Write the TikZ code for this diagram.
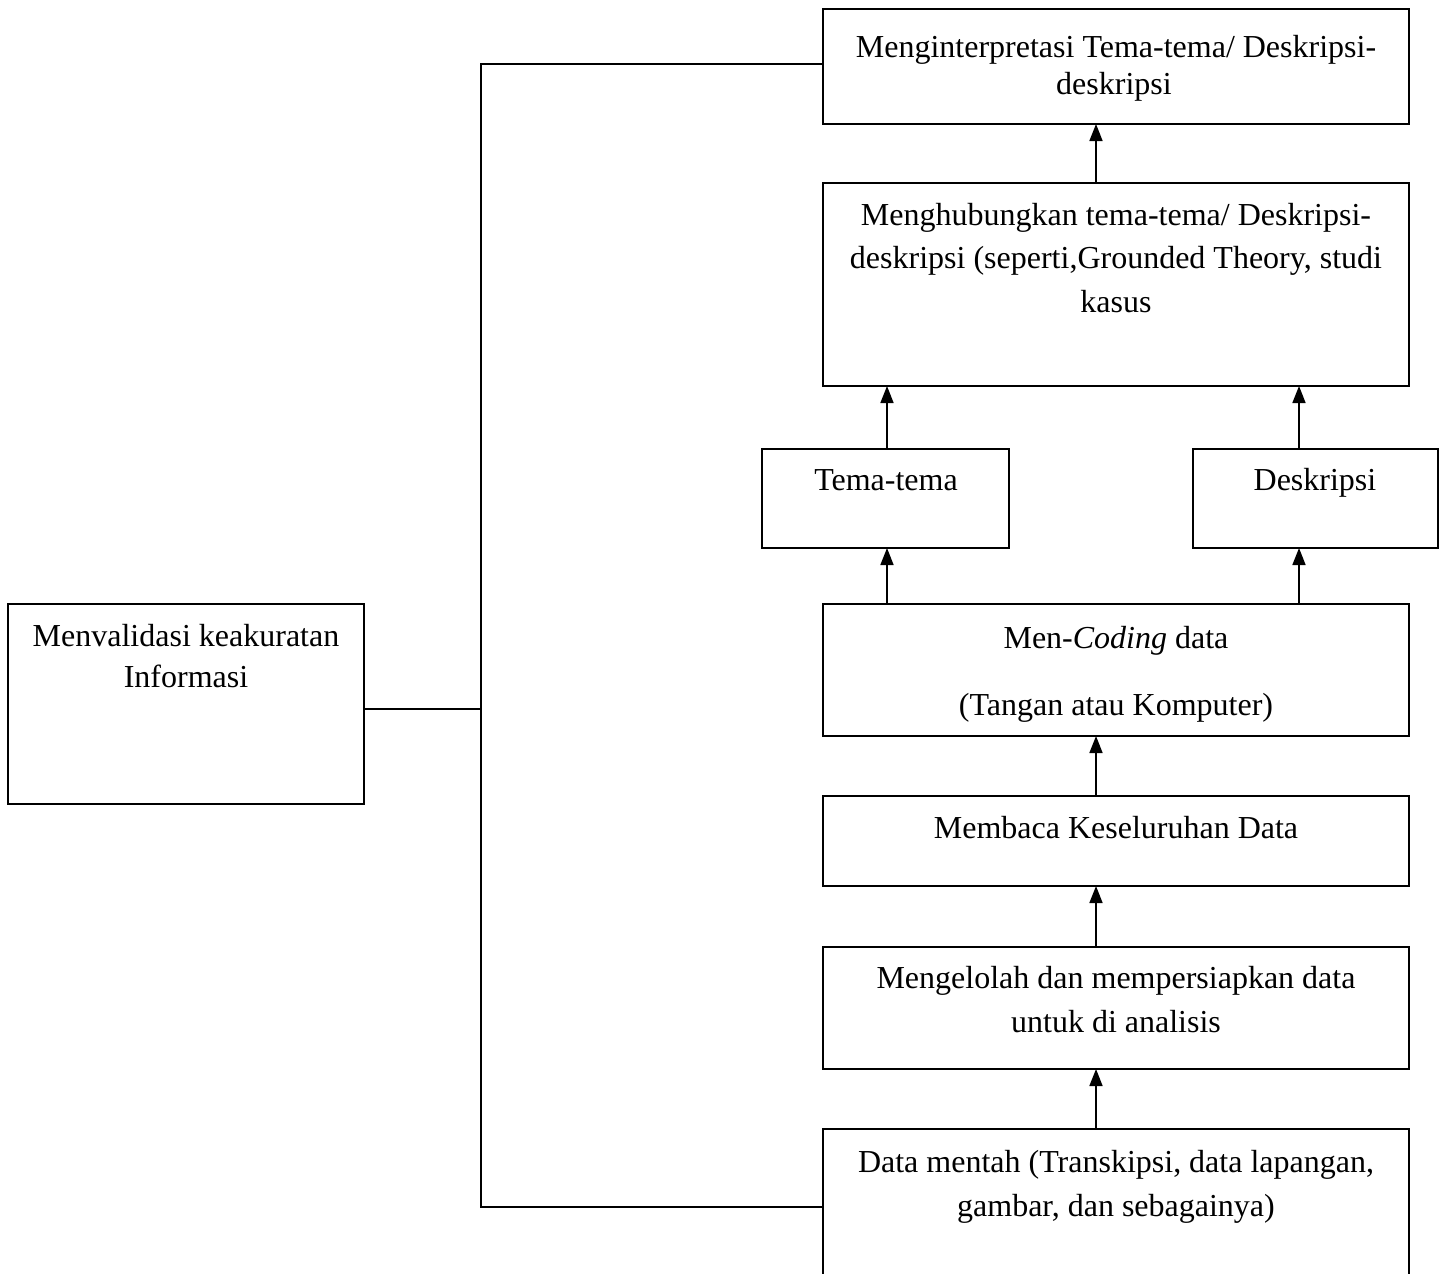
\documentclass[tikz,border=0pt]{standalone}
\usepackage{fontspec}
\setmainfont{Liberation Serif}
\usetikzlibrary{arrows.meta}
\begin{document}
\begin{tikzpicture}[x=1pt,y=-1pt,
  box/.style={draw,line width=1.8pt,rectangle,anchor=north west,inner sep=0pt,outer sep=0pt},
  txt/.style={anchor=base,inner sep=0pt,font=\fontsize{32}{37}\selectfont},
  link/.style={line width=1.6pt},
  arr/.style={line width=1.6pt,-{Triangle[length=17pt,width=13pt]}}]
\useasboundingbox (0,0) rectangle (1446,1274);
\clip (0,0) rectangle (1446,1274);
\fill[white] (0,0) rectangle (1446,1274);

% boxes
\node[box,minimum width=586pt,minimum height=115pt] (A) at (823,9) {};
\node[box,minimum width=586pt,minimum height=203pt] (B) at (823,183) {};
\node[box,minimum width=247pt,minimum height=99pt] (C) at (762,449) {};
\node[box,minimum width=245pt,minimum height=99pt] (D) at (1193,449) {};
\node[box,minimum width=586pt,minimum height=132pt] (E) at (823,604) {};
\node[box,minimum width=586pt,minimum height=90pt] (F) at (823,796) {};
\node[box,minimum width=586pt,minimum height=122pt] (G) at (823,947) {};
\node[box,minimum width=586pt,minimum height=170pt] (H) at (823,1129) {};
\node[box,minimum width=356pt,minimum height=200pt] (V) at (8,604) {};

% labels
\node[txt] (a1) at (1116,57) {Menginterpretasi Tema-tema/ Deskripsi-};
\node[txt] (a2) at (1114,94) {deskripsi};
\node[txt] (b1) at (1116,225) {Menghubungkan tema-tema/ Deskripsi-};
\node[txt] (b2) at (1116,268) {deskripsi (seperti,Grounded Theory, studi};
\node[txt] (b3) at (1116,312) {kasus};
\node[txt] (c1) at (886,490) {Tema-tema};
\node[txt] (d1) at (1315,490) {Deskripsi};
\node[txt] (e1) at (1116,648) {Men-\textit{Coding} data};
\node[txt] (e2) at (1116,715) {(Tangan atau Komputer)};
\node[txt] (f1) at (1116,838) {Membaca Keseluruhan Data};
\node[txt] (g1) at (1116,988) {Mengelolah dan mempersiapkan data};
\node[txt] (g2) at (1116,1032) {untuk di analisis};
\node[txt] (h1) at (1116,1172) {Data mentah (Transkipsi, data lapangan,};
\node[txt] (h2) at (1116,1216) {gambar, dan sebagainya)};
\node[txt] (v1) at (186,646) {Menvalidasi keakuratan};
\node[txt] (v2) at (186,687) {Informasi};

% connector anchors
\coordinate (mid) at (1096,0);
\coordinate (lft) at (887,0);
\coordinate (rgt) at (1299,0);
\coordinate (busT) at (481,64);
\coordinate (busV) at (481,709);
\coordinate (busB) at (481,1207);

% feedback bus on the left
\draw[link] (A.west |- busT) -- (busT) -- (busB) -- (H.west |- busB);
\draw[link] (V.east |- busV) -- (busV);

% upward flow
\draw[arr] (B.north -| mid) -- (A.south -| mid);
\draw[arr] (C.north -| lft) -- (B.south -| lft);
\draw[arr] (D.north -| rgt) -- (B.south -| rgt);
\draw[arr] (E.north -| lft) -- (C.south -| lft);
\draw[arr] (E.north -| rgt) -- (D.south -| rgt);
\draw[arr] (F.north -| mid) -- (E.south -| mid);
\draw[arr] (G.north -| mid) -- (F.south -| mid);
\draw[arr] (H.north -| mid) -- (G.south -| mid);
\end{tikzpicture}
\end{document}
